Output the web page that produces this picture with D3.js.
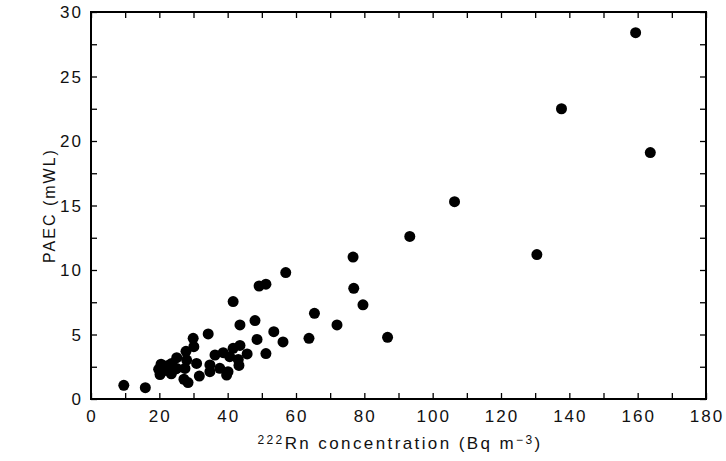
<!DOCTYPE html>
<html>
<head>
<meta charset="utf-8">
<script src="https://cdn.jsdelivr.net/npm/d3@7"></script>
<style>
  body { margin: 0; background: #fff; }
  text { font-family: "Liberation Sans", Arial, sans-serif; fill: #111; }
</style>
</head>
<body>
<div id="chart"></div>
<script>
// Rn-222 concentration (Bq m-3) vs PAEC (mWL)
let rn = [9.6, 15.9, 19.8, 20.2, 20.5, 21.5, 22.5, 23.5, 24.5, 23.1, 23.6, 25.1, 25.1,
          27.2, 28.4, 27.8, 28.0, 27.5, 30.9, 31.7, 30.1, 29.9, 34.3, 34.8, 34.8,
          36.3, 37.7, 38.7, 39.7, 40.1, 40.6, 41.6, 43.1, 43.3, 43.6, 45.7, 41.6,
          43.6, 48.0, 48.6, 49.2, 51.2, 51.2, 53.5, 56.2, 57.0, 63.8, 65.4, 72.0,
          76.7, 76.9, 79.6, 86.8, 93.3, 106.4, 130.5, 137.7, 159.4, 163.7]
let paec = [1.06, 0.88, 2.3, 1.9, 2.7, 2.2, 2.6, 1.95, 2.3, 2.25, 2.76, 2.37, 3.2,
            1.53, 1.27, 3.7, 3.02, 2.37, 2.76, 1.78, 4.06, 4.7, 5.04, 2.64, 2.12,
            3.41, 2.38, 3.59, 1.86, 2.12, 3.28, 3.93, 3.07, 2.6, 4.15, 3.49, 7.55,
            5.74, 6.08, 4.62, 8.76, 8.9, 3.52, 5.22, 4.42, 9.8, 4.7, 6.64, 5.74,
            11.0, 8.58, 7.3, 4.78, 12.6, 15.3, 11.2, 22.5, 28.4, 19.1]

let xTicks = [0, 20, 40, 60, 80, 100, 120, 140, 160, 180]
let yTicks = [0, 5, 10, 15, 20, 25, 30]

let width = 726
let height = 461
let padLeft = 91, padRight = 706, padTop = 12, padBottom = 399

const xScale = d3.scaleLinear().domain([0, 180]).range([padLeft, padRight])
const yScale = d3.scaleLinear().domain([0, 30]).range([padBottom, padTop])

const svg = d3.select("#chart").append("svg")
    .attr("width", width)
    .attr("height", height)

// inward ticks on all four sides, every 10 on x and 2.5 on y
let minorX = d3.range(0, 181, 10)
let minorY = d3.range(0, 30.01, 2.5)
let tickLen = 6

svg.append("g")
    .attr("transform", `translate(0,${padBottom})`)
    .call(d3.axisBottom(xScale).tickValues(minorX).tickSizeInner(-tickLen).tickSizeOuter(0).tickFormat(""))
svg.append("g")
    .attr("transform", `translate(0,${padTop})`)
    .call(d3.axisTop(xScale).tickValues(minorX).tickSizeInner(-tickLen).tickSizeOuter(0).tickFormat(""))
svg.append("g")
    .attr("transform", `translate(${padLeft},0)`)
    .call(d3.axisLeft(yScale).tickValues(minorY).tickSizeInner(-tickLen).tickSizeOuter(0).tickFormat(""))
svg.append("g")
    .attr("transform", `translate(${padRight},0)`)
    .call(d3.axisRight(yScale).tickValues(minorY).tickSizeInner(-tickLen).tickSizeOuter(0).tickFormat(""))

svg.selectAll(".domain").remove()
svg.selectAll(".tick line").attr("stroke", "#000").attr("stroke-width", 1.3)

// frame
svg.append("rect")
    .attr("x", padLeft).attr("y", padTop)
    .attr("width", padRight - padLeft).attr("height", padBottom - padTop)
    .attr("fill", "none").attr("stroke", "#000").attr("stroke-width", 2)

// tick labels (wide, spaced digits like the original plot font)
svg.selectAll(".xlab")
   .data(xTicks)
   .enter()
   .append("text")
   .attr("x", d => xScale(d) + 1)
   .attr("y", padBottom + 23)
   .attr("text-anchor", "middle")
   .attr("font-size", 17)
   .attr("letter-spacing", 2)
   .text(d => d)

svg.selectAll(".ylab")
   .data(yTicks)
   .enter()
   .append("text")
   .attr("x", padLeft - 8)
   .attr("y", d => yScale(d) + 6)
   .attr("text-anchor", "end")
   .attr("font-size", 17)
   .attr("letter-spacing", 2)
   .text(d => d)

// axis titles
let xt = svg.append("text")
    .attr("x", 400)
    .attr("y", 449)
    .attr("text-anchor", "middle")
    .attr("font-size", 17)
    .attr("letter-spacing", 2.4)
xt.append("tspan").attr("font-size", 12).attr("dy", -5).text("222")
xt.append("tspan").attr("dy", 5).text("Rn concentration (Bq m")
xt.append("tspan").attr("font-size", 12).attr("dy", -5).text("\u22123")
xt.append("tspan").attr("dy", 5).text(")")

svg.append("text")
    .attr("transform", `translate(55,${(padTop + padBottom) / 2}) rotate(-90)`)
    .attr("text-anchor", "middle")
    .attr("font-size", 16)
    .attr("letter-spacing", 2)
    .text("PAEC (mWL)")

// points
svg.selectAll("circle")
   .data(rn)
   .enter()
   .append("circle")
   .attr("cx", d => xScale(d))
   .attr("cy", (d, i) => yScale(paec[i]))
   .attr("r", 5.5)
   .attr("fill", "#000")
</script>
</body>
</html>
